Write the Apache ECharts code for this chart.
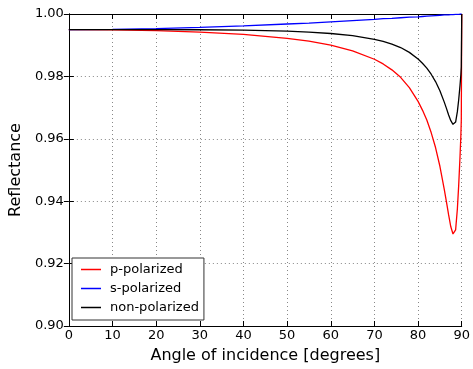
<!DOCTYPE html>
<html>
<head>
<meta charset="utf-8">
<script src="https://cdn.jsdelivr.net/npm/echarts@6/dist/echarts.min.js"></script>
<style>html,body{margin:0;padding:0;background:#fff;}#c{width:473px;height:369px;}</style>
</head>
<body>
<div id="c"></div>
<script>
const angles = [0,10,20,30,40,50,55,60,65,70,72,74,76,78,80,81,82,83,84,85,86,86.5,87,87.5,88,88.3,88.6,89,89.3,89.6,89.8,89.9,90];
const pPolarized = [0.9950,0.9949,0.9947,0.9942,0.9935,0.9922,0.9913,0.9900,0.9882,0.9855,0.9840,0.9821,0.9797,0.9764,0.9720,0.9692,0.9660,0.9620,0.9572,0.9512,0.9438,0.9398,0.9356,0.9318,0.9295,0.9292,0.9308,0.9375,0.9450,0.9540,0.9610,0.9660,1.0000];
const sPolarized = [0.9950,0.9951,0.9953,0.9957,0.9962,0.9968,0.9971,0.9975,0.9979,0.9983,0.9985,0.9986,0.9988,0.9990,0.9991,0.9992,0.9993,0.9994,0.9995,0.9996,0.9997,0.9997,0.9997,0.9998,0.9998,0.9998,0.9999,0.9999,0.9999,1.0000,1.0000,1.0000,1.0000];
const nonPolarized = [0.9950,0.9950,0.9950,0.99495,0.99485,0.9945,0.9942,0.99375,0.99305,0.9919,0.99125,0.99035,0.98925,0.9877,0.98555,0.9842,0.98265,0.9807,0.97835,0.9754,0.97175,0.96975,0.96765,0.9658,0.96465,0.9645,0.96535,0.9687,0.97245,0.9770,0.9805,0.9830,1.0000];
const seriesNames = ['p-polarized','s-polarized','non-polarized'];
const seriesColors = ['#ff0000','#0000ff','#000000'];
const xTicks = {min:0, max:90, step:10};
const yTicks = {min:0.90, max:1.00, step:0.02};

const FONT = 'DejaVu Sans';
const pair = (vals) => angles.map((a,i)=>[a, vals[i]]);
const allVals = [pPolarized, sPolarized, nonPolarized];

const chart = echarts.init(document.getElementById('c'), null, {renderer:'canvas'});
const tick = {show:true, inside:true, length:5, lineStyle:{color:'#000', width:1}};
const axLine = {show:true, lineStyle:{color:'#000', width:1}};
const grid = {show:true, lineStyle:{color:'#888', width:1, type:[1,3]}};
chart.setOption({
  animation:false,
  backgroundColor:'#fff',
  grid:{left:65, right:4, top:14, bottom:42, containLabel:false},
  legend:{
    orient:'vertical', left:72, top:258,
    data:seriesNames,
    icon:'rect', itemWidth:20, itemHeight:1.5, itemGap:4,
    padding:[4,5,5,9],
    borderColor:'#333', borderWidth:1, backgroundColor:'#fff',
    textStyle:{fontFamily:FONT, fontSize:13, color:'#000', lineHeight:15, padding:[0,0,0,4]},
    z:10
  },
  xAxis:[{
    type:'value', min:xTicks.min, max:xTicks.max, interval:xTicks.step,
    position:'bottom',
    name:'Angle of incidence [degrees]', nameLocation:'middle', nameGap:22,
    nameTextStyle:{fontFamily:FONT, fontSize:16, color:'#000'},
    axisLine:axLine, axisTick:tick, splitLine:grid,
    axisLabel:{fontFamily:FONT, fontSize:13, color:'#000', margin:3}
  },{
    type:'value', min:xTicks.min, max:xTicks.max, interval:xTicks.step,
    position:'top', axisLine:axLine, axisTick:tick, axisLabel:{show:false}, splitLine:{show:false}
  }],
  yAxis:[{
    type:'value', min:yTicks.min, max:yTicks.max, interval:yTicks.step,
    position:'left',
    name:'Reflectance', nameLocation:'middle', nameGap:37,
    nameTextStyle:{fontFamily:FONT, fontSize:16, color:'#000'},
    axisLine:axLine, axisTick:tick, splitLine:grid,
    axisLabel:{fontFamily:FONT, fontSize:13, color:'#000', margin:5, formatter:(v)=>v.toFixed(2)}
  },{
    type:'value', min:yTicks.min, max:yTicks.max, interval:yTicks.step,
    position:'right', axisLine:axLine, axisTick:tick, axisLabel:{show:false}, splitLine:{show:false}
  }],
  series: seriesNames.map((n,i)=>({
    name:n, type:'line', data:pair(allVals[i]), showSymbol:false, symbol:'none',
    lineStyle:{color:seriesColors[i], width:1.3}, itemStyle:{color:seriesColors[i]},
    clip:true, smooth:false
  }))
});
</script>
</body>
</html>
